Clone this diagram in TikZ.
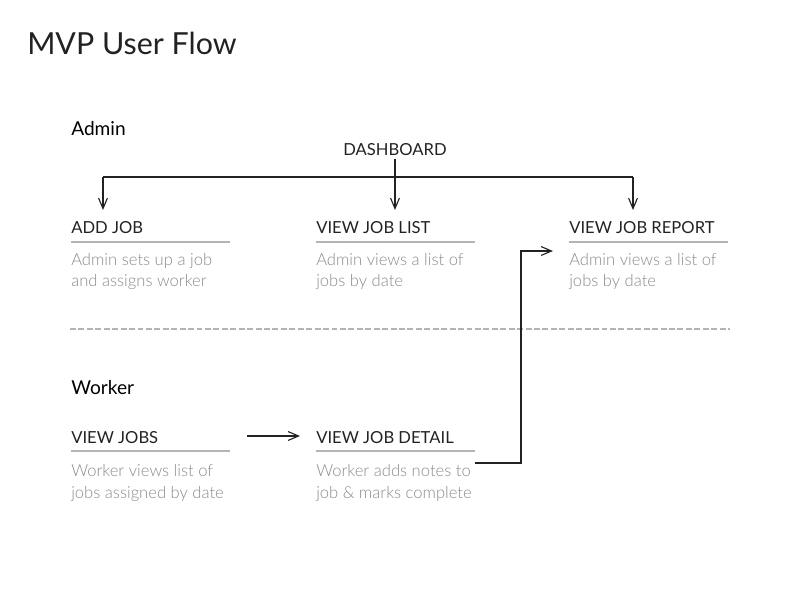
\documentclass[tikz,border=0pt]{standalone}
\usepackage{fontspec}
\setmainfont{Lato}
\newfontfamily\thinfont{Lato Light}
\usetikzlibrary{arrows.meta,positioning}
\definecolor{ink}{HTML}{222222}
\definecolor{soft}{HTML}{8A8A8A}
\definecolor{rulegray}{HTML}{B4B4B4}
\tikzset{
  head/.style={anchor=base west, inner sep=0pt, text=ink, font=\fontsize{11.8}{15}\selectfont},
  desc/.style={anchor=base west, inner sep=0pt, align=left, text=soft,
    font=\thinfont\fontsize{11.8}{15}\selectfont},
  rule/.style={draw=rulegray, line width=0.9pt},
  arr/.style={draw=ink, line width=0.8pt,
    -{Straight Barb[length=0.26cm,width=0.22cm,line width=0.8pt]}},
}
\begin{document}
\begin{tikzpicture}[x=0.025cm, y=-0.025cm]
  \useasboundingbox (0,0) rectangle (800,596);
  % titles
  \node (title) [anchor=base west, inner sep=0pt, text=ink,
    font=\fontsize{21.6}{26}\selectfont] at (27,55) {MVP User Flow};
  \node (admin) [anchor=base west, inner sep=0pt, text=black,
    font=\fontsize{13.6}{16}\selectfont] at (71,136) {Admin};
  \node (worker) [anchor=base west, inner sep=0pt, text=black,
    font=\fontsize{13.6}{16}\selectfont] at (71,394) {Worker};
  \node (dash) [head, anchor=base, inner sep=1.5pt] at (395,156) {DASHBOARD};

  % admin cards
  \node (addjob) [head] at (71,234) {ADD JOB};
  \node (viewlist) [head] at (316,234) {VIEW JOB LIST};
  \node (viewreport) [head] at (569,234) {VIEW JOB REPORT};
  \draw[rule] (71,242) -- ++(159,0);
  \draw[rule] (316,242) -- ++(159,0);
  \draw[rule] (569,242) -- ++(159,0);
  \node (addjobtxt) [desc] at (71,287) {Admin sets up a job\\and assigns worker};
  \node (viewlisttxt) [desc] at (316,287) {Admin views a list of\\jobs by date};
  \node (viewreporttxt) [desc] at (569,287) {Admin views a list of\\jobs by date};

  % separator
  \draw[rulegray, line width=1pt, dash pattern=on 4.2pt off 1.8pt] (70,329) -- (730,329);

  % worker cards
  \node (viewjobs) [head] at (71,443) {VIEW JOBS};
  \node (viewdetail) [head] at (316,443) {VIEW JOB DETAIL};
  \draw[rule] (71,451) -- ++(159,0);
  \draw[rule] (316,451) -- ++(159,0);
  \node (viewjobstxt) [desc] at (71,498) {Worker views list of\\jobs assigned by date};
  \node (viewdetailtxt) [desc] at (316,498) {Worker adds notes to\\job \& marks complete};

  % connectors
  \coordinate (tipa) at (103,210);
  \coordinate (tipc) at (633,210);
  \coordinate (bus) at (395,177);
  \coordinate (w1) at (247,436);
  \coordinate (w2) at (300,436);
  \coordinate (e0) at (475,463);
  \coordinate (e1) at (553,251);
  \draw[ink, line width=0.8pt] (tipa |- bus) -- (tipc |- bus);
  \draw[arr] (dash.south) -- (dash |- tipa);
  \draw[arr] (tipa |- bus) -- (tipa);
  \draw[arr] (tipc |- bus) -- (tipc);
  \draw[arr] (w1) -- (w2);
  \draw[arr] (e0) -- ++(46,0) |- (e1);
\end{tikzpicture}
\end{document}
